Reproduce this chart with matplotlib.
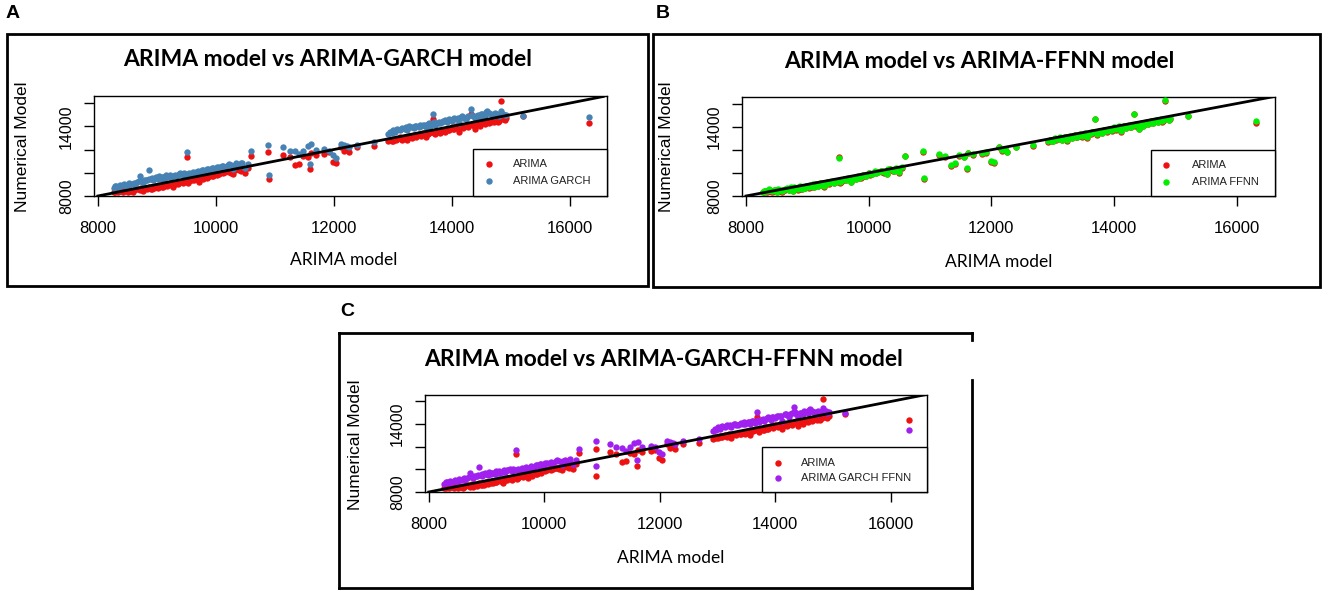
import matplotlib
matplotlib.use("Agg")
import matplotlib.pyplot as plt
from matplotlib.patches import Rectangle
from matplotlib.lines import Line2D

# ARIMA model values (x axis) and the fitted values of each model
arima_x = [8270, 8310, 8350, 8390, 8430, 8470, 8510, 8550, 8590, 8630,
           8670, 8708, 8740, 8770, 8810, 8840, 8873, 8900, 8930, 8960,
           8990, 9020, 9050, 9080, 9110, 9140, 9170, 9200, 9240, 9280,
           9320, 9360, 9400, 9440, 9480, 9510, 9550, 9590, 9630, 9670,
           9710, 9750, 9790, 9830, 9870, 9910, 9950, 10000, 10050, 10100,
           10150, 10200, 10250, 10300, 10350, 10400, 10450, 10500, 10550,
           10593, 10890, 10900, 11140, 11250, 11340, 11410, 11480, 11560, 11600,
           11620, 11700, 11840, 11920, 11990, 12040, 12130, 12170, 12220, 12260,
           12400, 12680,
           12920, 12960, 13000, 13040, 13080, 13120, 13160, 13200, 13240, 13280,
           13320, 13360, 13400, 13440, 13480, 13520, 13560, 13600, 13640, 13690,
           13720, 13760, 13800, 13840, 13880, 13920, 13960, 14000, 14040, 14080,
           14120, 14160, 14200, 14240, 14280, 14320, 14360, 14400, 14440, 14480,
           14520, 14560, 14600, 14640, 14680, 14720, 14760, 14800, 14830, 14870,
           14920, 15210, 16320,
           8290, 8370, 8450, 8530, 8610, 8690, 8790, 8860, 8920, 8980,
           9040, 9100, 9160, 9220, 9300, 9380, 9460, 9530, 9610, 9690,
           9770, 9850, 9930, 10020, 10120, 10220, 10320, 10420,
           12980, 13060, 13140, 13220, 13300, 13380, 13460, 13540, 13620, 13700,
           13780, 13860, 13940, 14020, 14100, 14180, 14260, 14340, 14420, 14500,
           14580, 14660, 14740, 14780, 14900]

arima_y = [8330, 8420, 8360, 8450, 8380, 8500, 8340, 8460, 8370, 8560,
           8620, 8480, 8700, 8400, 8660, 8560, 8800, 8620, 8760, 8650,
           8860, 8720, 8900, 8800, 8760, 9000, 8860, 9050, 8950, 8800,
           9150, 9050, 9240, 9100, 9300, 11350, 9250, 9400, 9350, 9500,
           9200, 9550, 9450, 9650, 9600, 9800, 9700, 9950, 9900, 10100,
           10050, 10150, 10000, 9900, 10300, 10200, 10350, 10000, 10450,
           11430, 11830, 9430, 11540, 11400, 10630, 10770, 11480, 11350, 10340,
           11700, 11550, 11630, 11750, 10970, 10830, 12200, 11900, 12050, 11800,
           12200, 12340,
           12700, 12850, 12750, 12950, 12900, 13050, 12850, 13100, 12800, 13150,
           13000, 13250, 13100, 13300, 13150, 13400, 13050, 13350, 13500, 14630,
           13300, 13600, 13450, 13700, 13550, 13800, 13650, 13900, 13750, 14000,
           13550, 14050, 13850, 14100, 13950, 15060, 14150, 13800, 14250, 14050,
           14350, 14200, 14450, 14300, 14500, 14400, 14600, 14500, 16200, 14650,
           14700, 14910, 14330,
           8380, 8520, 8440, 8560, 8480, 8580, 8700, 8720, 8580, 8780,
           8850, 8950, 8920, 9100, 9000, 9200, 9250, 9150, 9450, 9380,
           9600, 9550, 9750, 9850, 9950, 10100, 10250, 10150,
           12750, 12850, 12950, 13000, 13100, 13150, 13250, 13250, 13400, 13450,
           13500, 13600, 13700, 13800, 13850, 13950, 14000, 14100, 14150, 14250,
           14350, 14400, 14500, 14400, 14550]

garch_y = [8700, 8900, 8780, 8850, 8950, 8820, 8930, 9000, 9050, 8980,
           9200, 9720, 9250, 9150, 9400, 9350, 10200, 9450, 9400, 9500,
           9550, 9450, 9600, 9500, 9650, 9560, 9700, 9650, 9600, 9750,
           9700, 9850, 9950, 9800, 9900, 11760, 9950, 9850, 10000, 10100,
           9950, 10050, 10200, 10150, 10300, 10250, 10400, 10350, 10500, 10550,
           10500, 10700, 10650, 10350, 10800, 10600, 10850, 10450, 10750,
           11860, 12430, 9770, 12200, 11900, 11910, 11600, 11900, 12300, 10770,
           12490, 11950, 12060, 11900, 11490, 11300, 12490, 12350, 12300, 12200,
           12430, 12630,
           13350, 13500, 13650, 13550, 13750, 13700, 13850, 13800, 13650, 14000,
           13900, 13850, 14050, 13950, 14000, 14100, 13950, 14200, 14050, 15060,
           14150, 14300, 14250, 14400, 14550, 14350, 14600, 14500, 14700, 14650,
           14300, 14800, 14750, 14600, 14900, 15490, 14850, 14700, 14950, 14800,
           15050, 14900, 15300, 15150, 15000, 14850, 15050, 14900, 15350, 15100,
           15000, 14920, 14830,
           8820, 8920, 9020, 9100, 9150, 9300, 9380, 9480, 9550, 9620,
           9700, 9600, 9780, 9820, 9850, 9900, 10000, 9900, 10100, 10150,
           10250, 10350, 10450, 10500, 10600, 10750, 10700, 10800,
           13450, 13650, 13800, 13900, 13950, 14000, 14100, 14150, 14250, 14350,
           14400, 14450, 14550, 14650, 14700, 14850, 14800, 15000, 14900, 15100,
           15200, 15050, 15150, 15000, 14950]

ffnn_y = [8370, 8450, 8400, 8490, 8410, 8540, 8380, 8500, 8400, 8600,
          8660, 8530, 8740, 8440, 8700, 8590, 8850, 8660, 8800, 8690,
          8900, 8760, 8940, 8840, 8800, 9040, 8900, 9090, 8990, 8840,
          9190, 9090, 9280, 9140, 9340, 11280, 9290, 9440, 9390, 9540,
          9240, 9590, 9490, 9690, 9640, 9840, 9740, 9990, 9940, 10140,
          10090, 10190, 10040, 9940, 10340, 10240, 10390, 10040, 10490,
          11460, 11900, 9520, 11600, 11450, 10700, 10820, 11520, 11400, 10420,
          11750, 11600, 11680, 11790, 11050, 10900, 12250, 11940, 12090, 11840,
          12240, 12380,
          12740, 12890, 12790, 12990, 12940, 13090, 12890, 13140, 12840, 13190,
          13040, 13290, 13140, 13340, 13190, 13440, 13090, 13390, 13540, 14700,
          13340, 13640, 13490, 13740, 13590, 13840, 13690, 13940, 13790, 14040,
          13590, 14090, 13890, 14140, 13990, 15100, 14190, 13840, 14290, 14090,
          14390, 14240, 14490, 14340, 14540, 14440, 14640, 14540, 16280, 14690,
          14740, 14960, 14450,
          8430, 8570, 8490, 8610, 8530, 8630, 8750, 8770, 8630, 8830,
          8900, 9000, 8970, 9150, 9050, 9250, 9300, 9200, 9500, 9430,
          9650, 9600, 9800, 9900, 10000, 10150, 10300, 10200,
          12800, 12900, 13000, 13050, 13150, 13200, 13300, 13300, 13450, 13500,
          13550, 13650, 13750, 13850, 13900, 14000, 14050, 14150, 14200, 14300,
          14400, 14450, 14550, 14450, 14600]

garch_ffnn_y = [8720, 8880, 8820, 8900, 8990, 8860, 8980, 9050, 9100, 9020,
                9250, 9680, 9300, 9200, 9450, 9400, 10180, 9500, 9450, 9550,
                9600, 9500, 9650, 9550, 9700, 9600, 9750, 9700, 9650, 9800,
                9750, 9900, 10000, 9850, 9950, 11720, 10000, 9900, 10050, 10150,
                10000, 10100, 10250, 10200, 10350, 10300, 10450, 10400, 10550, 10600,
                10550, 10750, 10700, 10400, 10850, 10650, 10900, 10500, 10800,
                11830, 12520, 10290, 12250, 11950, 11850, 11650, 11950, 12350, 10800,
                12450, 12000, 12100, 11950, 11550, 11350, 12550, 12400, 12350, 12250,
                12480, 12650,
                13400, 13550, 13700, 13600, 13800, 13750, 13900, 13850, 13700, 14050,
                13950, 13900, 14100, 14000, 14050, 14150, 14000, 14250, 14100, 15100,
                14200, 14350, 14300, 14450, 14600, 14400, 14650, 14550, 14750, 14700,
                14250, 14850, 14800, 14650, 14950, 15520, 14900, 14650, 15000, 14850,
                15100, 14950, 15350, 15200, 15050, 14900, 15100, 14950, 15400, 15150,
                15050, 14950, 13470,
                8850, 8960, 9060, 9150, 9200, 9350, 9420, 9520, 9600, 9660,
                9740, 9650, 9820, 9860, 9900, 9950, 10050, 9950, 10150, 10200,
                10300, 10400, 10500, 10550, 10650, 10800, 10750, 10850,
                13500, 13700, 13850, 13950, 14000, 14050, 14150, 14200, 14300, 14400,
                14450, 14500, 14600, 14700, 14750, 14900, 14850, 15050, 14950, 15150,
                15250, 15100, 15200, 15050, 15000]

x_ticks = [8000, 10000, 12000, 14000, 16000]
x_tick_labels = ['8000', '10000', '12000', '14000', '16000']
y_tick_labels = ['8000', '', '', '14000', '']

W, H = 1325, 593
fig = plt.figure(figsize=(W / 100, H / 100), dpi=100)

R_SANS = 'Liberation Sans'
CALIBRI = 'Lato'
RED = '#ee1111'


def fx(px):
    return px / W


def fy(py):
    return 1 - py / H


def frame(l, t, r, b):
    fig.add_artist(Rectangle((fx(l), fy(b)), fx(r - l), (b - t) / H,
                             transform=fig.transFigure, fill=False,
                             edgecolor='black', lw=2.0))


def panel(box, other_y, color, name, title, title_x, title_y, xlab_pos,
          ylab_pos, leg):
    l, t, r, b = box
    ax = fig.add_axes([fx(l), fy(b), fx(r - l), (b - t) / H])
    ax.scatter(arima_x, arima_y, s=21, color=RED, lw=0, zorder=2)
    ax.scatter(arima_x, other_y, s=21, color=color, lw=0, zorder=3)
    ax.axline((8000, 8000), slope=1, color='black', lw=2.0, zorder=4)
    ax.set_xlim(7935, 16625)
    ax.set_ylim(8000, 16570)
    ax.set_xticks(x_ticks)
    ax.set_xticklabels(x_tick_labels, fontsize=12, family=R_SANS)
    ax.set_yticks(x_ticks)
    ax.set_yticklabels(y_tick_labels, fontsize=11.5, family=R_SANS,
                       rotation=90, va='center')
    ax.tick_params(axis='x', direction='out', length=7.5, width=1, pad=10.5)
    ax.tick_params(axis='y', direction='out', length=7.5, width=1, pad=7)
    for sp in ax.spines.values():
        sp.set_linewidth(1.0)

    fig.text(fx(title_x), fy(title_y), title, family=CALIBRI,
             fontweight='bold', fontsize=16.5, ha='center', va='center')
    fig.text(fx(xlab_pos[0]), fy(xlab_pos[1]), 'ARIMA model', family=CALIBRI,
             fontsize=12.5, ha='center', va='center')
    fig.text(fx(ylab_pos[0]), fy(ylab_pos[1]), 'Numerical Model',
             family=R_SANS, fontsize=12.5, rotation=90,
             ha='center', va='center')

    # legend box in the lower right corner of the plot region
    ll, lt, dot_x, txt_x, rows = leg
    fig.add_artist(Rectangle((fx(ll), fy(b)), fx(r - ll), (b - lt) / H,
                             transform=fig.transFigure, facecolor='white',
                             edgecolor='black', lw=1.0, zorder=6))
    for row_y, c, lab in zip(rows, [RED, color], ['ARIMA', name]):
        fig.add_artist(Line2D([fx(dot_x)], [fy(row_y)], marker='o', ms=3.6,
                              color=c, lw=0, transform=fig.transFigure,
                              zorder=7))
        fig.text(fx(txt_x), fy(row_y), lab, family=R_SANS, fontsize=8,
                 ha='left', va='center', color='#222222', zorder=7)
    return ax


# panel frames
frame(7.5, 34, 648, 286)
frame(653, 34, 1320, 287)
# frame C has a gap on the upper right side
for xs, ys in [([339, 972], [333, 333]), ([339, 339], [333, 588]),
               ([339, 972], [588, 588]), ([972, 972], [380, 588]),
               ([972, 972], [333, 340])]:
    fig.add_artist(Line2D([fx(v) for v in xs], [fy(v) for v in ys],
                          transform=fig.transFigure, color='black', lw=2.0,
                          solid_capstyle='projecting'))

panel((94, 96.5, 606.5, 196), garch_y, 'steelblue', 'ARIMA GARCH',
      'ARIMA model vs ARIMA-GARCH model', 328, 60, (344, 260), (23, 147),
      (473.3, 149.3, 489, 513, (164.3, 180.5)))
panel((742, 97, 1275, 196), ffnn_y, '#00ee00', 'ARIMA FFNN',
      'ARIMA model vs ARIMA-FFNN model', 979, 62, (999, 262), (667, 147),
      (1151, 150, 1166, 1192, (165, 181.5)))
panel((425, 395, 927, 492), garch_ffnn_y, '#a020f0', 'ARIMA GARCH FFNN',
      'ARIMA model vs ARIMA-GARCH-FFNN model', 663, 360, (671, 558),
      (355, 445), (762, 447, 778, 801, (463, 478)))

for lab, x, y in [('A', 12.5, 13), ('B', 663, 13), ('C', 347, 311)]:
    fig.text(fx(x), fy(y), lab, family=R_SANS, fontweight='bold',
             fontsize=14, ha='center', va='center')

fig.savefig('out.png', dpi=100)
